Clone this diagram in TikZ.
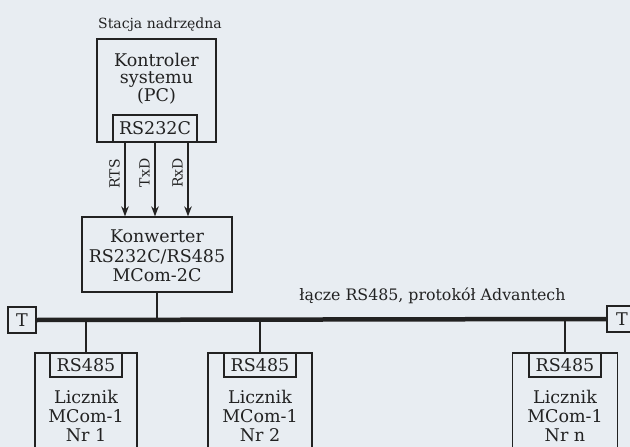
\documentclass[tikz,border=0pt]{standalone}
\usepackage{fontspec}
\setmainfont{DejaVu Serif}
\usetikzlibrary{arrows.meta}
\definecolor{paper}{HTML}{E8EDF2}
\definecolor{ink}{HTML}{222222}
\begin{document}
\begin{tikzpicture}[x=1pt,y=-1pt,
  frame/.style={draw=ink, line width=1.3pt, inner sep=0pt},
  subbox/.style={draw=ink, line width=1.3pt, inner sep=0pt, text=ink,
    font=\fontsize{17.5}{19}\selectfont},
  boxtxt/.style={text=ink, inner sep=0pt, anchor=base, font=\fontsize{17.5}{19}\selectfont},
  lbl/.style={text=ink, inner sep=0pt, anchor=base, font=\fontsize{14}{16}\selectfont},
  sig/.style={text=ink, inner sep=0pt, anchor=base, rotate=90, font=\fontsize{14}{16}\selectfont},
  arr/.style={draw=ink, line width=1.4pt, -{Stealth[length=10pt,width=7.5pt]}},
  drop/.style={draw=ink, line width=2.6pt},
  bus/.style={draw=ink, line width=4.5pt}]
\fill[paper] (0,0) rectangle (630,447);
\useasboundingbox (0,0) rectangle (630,447);

% title
\node[lbl] (title) at (160,28) {Stacja nadrzędna};

% controller
\node[frame, minimum width=119pt, minimum height=103pt] (ctrl) at (156.5,90.5) {};
\node[boxtxt] (ct1) at (156.5,66) {Kontroler};
\node[boxtxt] (ct2) at (156.5,83.5) {systemu};
\node[boxtxt] (ct3) at (156.5,101) {(PC)};
\node[subbox, minimum width=84pt, minimum height=27pt] (rs232) at (155,128.5) {RS232C};

% converter
\node[frame, minimum width=150pt, minimum height=75pt] (konw) at (157,254.5) {};
\node[boxtxt] (kt1) at (157,242) {Konwerter};
\node[boxtxt] (kt2) at (157,262) {RS232C/RS485};
\node[boxtxt] (kt3) at (157,281) {MCom-2C};

% signal arrows
\coordinate (c1) at (125,0);
\coordinate (c2) at (155,0);
\coordinate (c3) at (188,0);
\draw[arr] (rs232.south -| c1) -- (konw.north -| c1);
\draw[arr] (rs232.south -| c2) -- (konw.north -| c2);
\draw[arr] (rs232.south -| c3) -- (konw.north -| c3);
\node[sig] (s1) at (119.5,174) {RTS};
\node[sig] (s2) at (149.5,173) {TxD};
\node[sig] (s3) at (182.5,173) {RxD};

% terminators and bus
\node[subbox, minimum width=28pt, minimum height=26pt] (tl) at (22,320) {T};
\node[subbox, minimum width=30pt, minimum height=26pt] (tr) at (622,319) {T};
\draw[bus] (tl.east) -- (tr.west);
\node[lbl, font=\fontsize{15.8}{17}\selectfont] (buslbl) at (432.5,300) {łącze RS485, protokół Advantech};
\draw[drop] (konw.south) -- (konw.south |- tl.east);

% meters
\node[frame, minimum width=102pt, minimum height=120pt] (l1) at (86,413) {};
\node[frame, minimum width=104pt, minimum height=120pt] (l2) at (260,413) {};
\node[frame, minimum width=105pt, minimum height=120pt] (ln) at (565,413) {};
\node[subbox, minimum width=72pt, minimum height=24pt, anchor=north] (r1) at (l1.north) {RS485};
\node[subbox, minimum width=72pt, minimum height=24pt, anchor=north] (r2) at (l2.north) {RS485};
\node[subbox, minimum width=72pt, minimum height=24pt, anchor=north] (rn) at (ln.north) {RS485};
\node[boxtxt] (l1a) at (86,403) {Licznik};
\node[boxtxt] (l1b) at (86,422) {MCom-1};
\node[boxtxt] (l1c) at (86,441) {Nr 1};
\node[boxtxt] (l2a) at (260,403) {Licznik};
\node[boxtxt] (l2b) at (260,422) {MCom-1};
\node[boxtxt] (l2c) at (260,441) {Nr 2};
\node[boxtxt] (lna) at (565,403) {Licznik};
\node[boxtxt] (lnb) at (565,422) {MCom-1};
\node[boxtxt] (lnc) at (565,441) {Nr n};
\draw[drop] (l1.north) -- (l1.north |- tl.east);
\draw[drop] (l2.north) -- (l2.north |- tl.east);
\draw[drop] (ln.north) -- (ln.north |- tl.east);
\end{tikzpicture}
\end{document}
